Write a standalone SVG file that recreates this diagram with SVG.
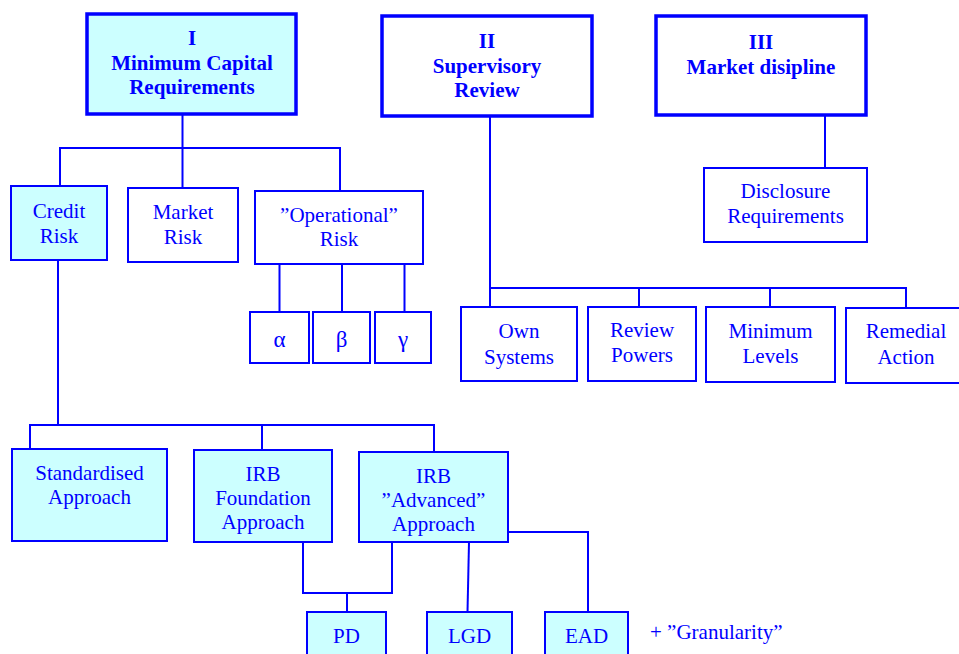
<svg xmlns="http://www.w3.org/2000/svg" width="959" height="654" viewBox="0 0 959 654">
<style>
rect{stroke:#0000ff;stroke-width:2;fill:#ffffff}
rect.bg{stroke:none}
rect.c{fill:#ccffff}
rect.top{stroke-width:3.5}
text{font-family:'Liberation Serif','Times New Roman',Tinos,Times,'DejaVu Serif',serif;font-size:21px;fill:#0000ff;text-anchor:middle}
text.b{font-weight:bold}
text.g{font-size:23px}
#connectors path{stroke:#0000ff;stroke-width:2;fill:none}
</style>
<rect class="bg" x="0" y="0" width="959" height="654"/>
<g id="connectors">
<path d="M182.5 114V188M60 186V148H340V191"/>
<path d="M279.5 264V312M342 264V312M404.5 264V312"/>
<path d="M58 260V425M30 449V425H434V452M262 425V450"/>
<path d="M303 542V593H392V542M347 593V612"/>
<path d="M469 542L467.5 612"/>
<path d="M508 532H588V612"/>
<path d="M825 115V168"/>
<path d="M490 116V288H906V308M490 288V307M639 288V307M770 288V307"/>
</g>
<g id="n1"><rect class="c top" x="87" y="14" width="209" height="100"/>
<text class="b" x="192" y="45">I</text><text class="b" x="192" y="70">Minimum Capital</text><text class="b" x="192" y="94">Requirements</text></g>
<g id="n2"><rect class="top" x="382" y="16" width="210" height="100"/>
<text class="b" x="487" y="48">II</text><text class="b" x="487" y="73">Supervisory</text><text class="b" x="487" y="97">Review</text></g>
<g id="n3"><rect class="top" x="656" y="16" width="210" height="99"/>
<text class="b" x="761" y="49">III</text><text class="b" x="761" y="74">Market disipline</text></g>
<g id="n4"><rect class="c" x="11" y="186" width="96" height="74"/>
<text x="59" y="218">Credit</text><text x="59" y="243">Risk</text></g>
<g id="n5"><rect x="128" y="188" width="110" height="74"/>
<text x="183" y="219">Market</text><text x="183" y="244">Risk</text></g>
<g id="n6"><rect x="255" y="191" width="168" height="73"/>
<text x="339" y="222">”Operational”</text><text x="339" y="246">Risk</text></g>
<g id="n7"><rect x="250" y="312" width="59" height="51"/><text class="g" x="279.5" y="347">α</text></g>
<g id="n8"><rect x="313" y="312" width="57" height="51"/><text class="g" x="341.5" y="347">β</text></g>
<g id="n9"><rect x="375" y="312" width="56" height="51"/><text class="g" x="403" y="347">γ</text></g>
<g id="n10"><rect x="704" y="168" width="163" height="74"/>
<text x="785.5" y="198">Disclosure</text><text x="785.5" y="223">Requirements</text></g>
<g id="n11"><rect x="461" y="307" width="116" height="74"/>
<text x="519" y="338">Own</text><text x="519" y="364">Systems</text></g>
<g id="n12"><rect x="588" y="307" width="108" height="74"/>
<text x="642" y="337">Review</text><text x="642" y="362">Powers</text></g>
<g id="n13"><rect x="706" y="307" width="129" height="75"/>
<text x="770.5" y="338">Minimum</text><text x="770.5" y="363">Levels</text></g>
<g id="n14"><rect x="846" y="308" width="118" height="75"/>
<text x="906" y="338">Remedial</text><text x="906" y="364">Action</text></g>
<g id="n15"><rect class="c" x="12" y="449" width="155" height="92"/>
<text x="89.5" y="480">Standardised</text><text x="89.5" y="504">Approach</text></g>
<g id="n16"><rect class="c" x="194" y="450" width="138" height="92"/>
<text x="263" y="481">IRB</text><text x="263" y="505">Foundation</text><text x="263" y="529">Approach</text></g>
<g id="n17"><rect class="c" x="359" y="452" width="149" height="90"/>
<text x="433.5" y="483">IRB</text><text x="433.5" y="507">”Advanced”</text><text x="433.5" y="531">Approach</text></g>
<g id="n18"><rect class="c" x="307" y="612" width="79" height="50"/><text x="346.5" y="643">PD</text></g>
<g id="n19"><rect class="c" x="427" y="612" width="85" height="50"/><text x="469.5" y="643">LGD</text></g>
<g id="n20"><rect class="c" x="545" y="612" width="83" height="50"/><text x="586.5" y="643">EAD</text></g>
<text x="650" y="639" style="text-anchor:start">+ ”Granularity”</text>
</svg>
